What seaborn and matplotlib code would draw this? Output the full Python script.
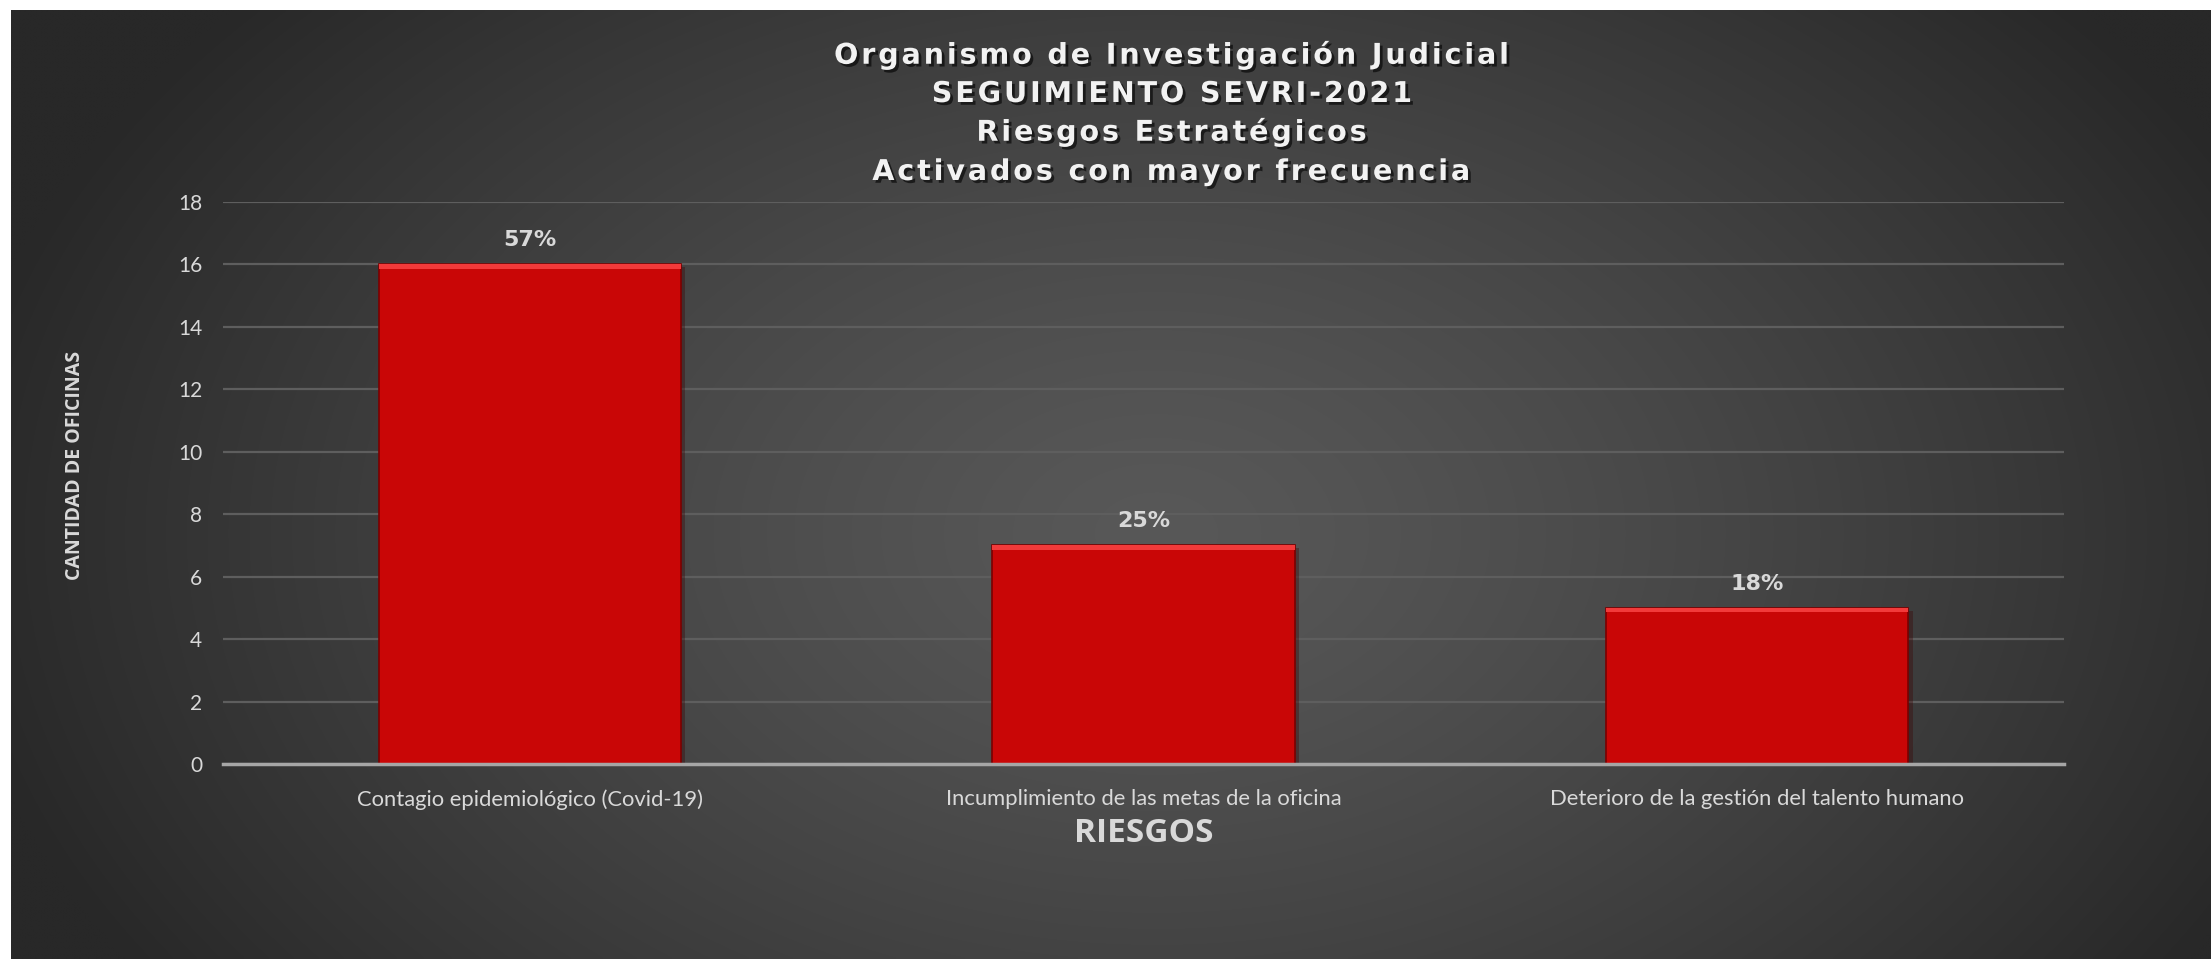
import matplotlib
matplotlib.use("Agg")
import matplotlib.pyplot as plt
import matplotlib.patheffects as pe
from matplotlib.patches import Rectangle
import numpy as np
import pandas as pd
import seaborn as sns

# ---------- data ----------
riesgos = [
    "Contagio epidemiológico (Covid-19)",
    "Incumplimiento de las metas de la oficina",
    "Deterioro de la gestión del talento humano",
]
oficinas = [16, 7, 5]
porcentajes = ["57%", "25%", "18%"]
yticks = [0, 2, 4, 6, 8, 10, 12, 14, 16, 18]

title_lines = [
    "Organismo de Investigación Judicial",
    "SEGUIMIENTO SEVRI-2021",
    "Riesgos Estratégicos",
    "Activados con mayor frecuencia",
]

COLORS = {
    "bar": "#C90606",
    "bar_edge": "#7A0000",
    "bar_top": "#F23A3A",
    "text": "#D9D9D9",
    "grid": "#5E5E5E",
    "axis": "#A6A6A6",
    "bg_edge": 0x28 / 255,
    "bg_center": 0x58 / 255,
}

W, H, DPI = 2211, 959, 100


def _style():
    sns.set_theme(style="dark", rc={"axes.facecolor": "none", "figure.facecolor": "white"})
    plt.rcParams["font.family"] = ["Lato", "DejaVu Sans"]


def _spaced(s):
    # Excel-style character spacing on the title
    return "\u200a".join(s)


def _background(fig):
    # dark radial gradient behind the chart area (white strip top / left)
    left, top = 11 / W, 10 / H
    bg = fig.add_axes([left, 0, 1 - left, 1 - top], zorder=-10)
    ny, nx = 300, 700
    yy, xx = np.mgrid[0:ny, 0:nx]
    cx, cy = nx * 0.52, ny * 0.55
    r = np.sqrt(((xx - cx) / (nx * 0.55)) ** 2 + ((yy - cy) / (ny * 0.85)) ** 2)
    v = COLORS["bg_center"] - (COLORS["bg_center"] - COLORS["bg_edge"]) * np.clip(r, 0, 1) ** 1.3
    bg.imshow(np.dstack([v, v, v]), aspect="auto", interpolation="bilinear")
    bg.set_axis_off()


def main():
    _style()
    fig = plt.figure(figsize=(W / DPI, H / DPI), dpi=DPI)
    _background(fig)

    ax = fig.add_axes([223 / W, 195 / H, (2064 - 223) / W, (757 - 195) / H])
    df = pd.DataFrame({"riesgo": riesgos, "oficinas": oficinas})
    sns.barplot(data=df, x="riesgo", y="oficinas", ax=ax, width=0.493,
                color=COLORS["bar"], saturation=1, edgecolor=COLORS["bar_edge"],
                linewidth=1.2, zorder=3)

    # bevel highlight on top of each bar
    for p in list(ax.patches):
        ax.add_patch(Rectangle((p.get_x(), p.get_height() - 0.14), p.get_width(), 0.14,
                               facecolor=COLORS["bar_top"], edgecolor="none", zorder=4))
        p.set_path_effects([pe.SimplePatchShadow(offset=(3, -2), alpha=0.35), pe.Normal()])

    for i, (v, lab) in enumerate(zip(oficinas, porcentajes)):
        ax.annotate(lab, (i, v), xytext=(0, 24), textcoords="offset pixels",
                    ha="center", va="center", fontsize=16, fontweight="bold",
                    color=COLORS["text"], family=["DejaVu Sans"])

    ax.set_ylim(0, 18)
    ax.set_yticks(yticks)
    ax.grid(axis="y", color=COLORS["grid"], linewidth=1.6, zorder=0)
    ax.grid(axis="x", visible=False)
    for s in ["top", "right", "left"]:
        ax.spines[s].set_visible(False)
    ax.spines["bottom"].set_color(COLORS["axis"])
    ax.spines["bottom"].set_linewidth(2.5)
    ax.spines["bottom"].set_zorder(5)
    ax.tick_params(axis="y", colors=COLORS["text"], labelsize=15, length=0, pad=15)
    ax.tick_params(axis="x", colors=COLORS["text"], labelsize=15.8, length=0, pad=18)

    ax.set_xlabel("RIESGOS", fontsize=24, fontweight="bold", color=COLORS["text"],
                  labelpad=5, family=["Open Sans", "DejaVu Sans"])
    ax.set_ylabel("")
    fig.text(75 / W, 1 - 465 / H, "CANTIDAD DE OFICINAS", rotation=90, ha="center",
             va="center", fontsize=14, fontweight="bold", color=COLORS["text"],
             family=["Open Sans", "DejaVu Sans"])

    for y, line in zip([55, 94, 132, 172], title_lines):
        fig.text(1172 / W, 1 - y / H, _spaced(line), ha="center", va="center", fontsize=20.6,
                 fontweight="bold", color="#F2F2F2", family=["DejaVu Sans"],
                 path_effects=[pe.withSimplePatchShadow(offset=(2, -2), shadow_rgbFace="black", alpha=0.6)])

    fig.savefig("out.png", dpi=DPI, facecolor="white")
    plt.close(fig)


main()
